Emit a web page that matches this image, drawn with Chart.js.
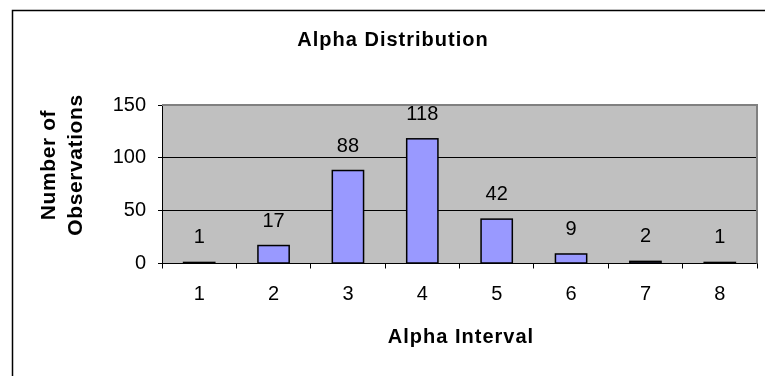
<!DOCTYPE html>
<html>
<head>
<meta charset="utf-8">
<script src="https://cdn.jsdelivr.net/npm/chart.js@4"></script>
<style>
  html, body { margin: 0; padding: 0; background: #fff; }
  #wrap { width: 765px; height: 376px; position: relative; }
</style>
</head>
<body>
<div id="wrap"><canvas id="c"></canvas></div>
<script>
// Histogram of alpha values
const intervals = ['1', '2', '3', '4', '5', '6', '7', '8'];
const observations = [1, 17, 88, 118, 42, 9, 2, 1];
const yTickValues = [0, 50, 100, 150];
const chartTitle = 'Alpha Distribution';
const xTitle = 'Alpha Interval';
const yTitleLines = ['Number of', 'Observations'];

const FONT = "'Liberation Sans', Arial, sans-serif";

// Chart frame, grey plot area, bar outlines, value labels and titles
const decorations = {
  id: 'decorations',
  beforeDraw(chart) {
    const { ctx, chartArea: a } = chart;
    ctx.save();
    ctx.fillStyle = '#fff';
    ctx.fillRect(0, 0, chart.width, chart.height);
    ctx.strokeStyle = '#000';
    ctx.lineWidth = 1.5;
    ctx.strokeRect(12.5, 10.5, chart.width + 40, chart.height + 40);
    ctx.fillStyle = '#C0C0C0';
    ctx.fillRect(a.left, a.top, a.right - a.left, a.bottom - a.top);
    ctx.restore();
  },
  afterDatasetsDraw(chart) {
    const { ctx, chartArea: a } = chart;
    ctx.save();
    // plot area outline on top and right
    ctx.strokeStyle = '#808080';
    ctx.lineWidth = 2;
    ctx.beginPath();
    ctx.moveTo(a.left, a.top);
    ctx.lineTo(a.right, a.top);
    ctx.lineTo(a.right, a.bottom);
    ctx.stroke();
    const meta = chart.getDatasetMeta(0);
    // bar outlines stroked on the bar edges
    ctx.strokeStyle = '#000';
    ctx.lineWidth = 1.5;
    meta.data.forEach(bar => {
      const p = bar.getProps(['x', 'y', 'base', 'width'], true);
      ctx.strokeRect(p.x - p.width / 2, p.y, p.width, p.base - p.y);
    });
    // value labels above each bar
    ctx.fillStyle = '#000';
    ctx.font = '20px ' + FONT;
    ctx.textAlign = 'center';
    ctx.textBaseline = 'alphabetic';
    meta.data.forEach((bar, i) => {
      ctx.fillText(String(observations[i]), bar.x, bar.y - 19);
    });
    ctx.restore();
  },
  afterDraw(chart) {
    const { ctx } = chart;
    ctx.save();
    ctx.fillStyle = '#000';
    ctx.font = 'bold 20px ' + FONT;
    if ('letterSpacing' in ctx) ctx.letterSpacing = '1px';
    ctx.textAlign = 'center';
    ctx.textBaseline = 'middle';
    ctx.fillText(chartTitle, 393, 40);
    ctx.fillText(xTitle, 461, 337);
    ctx.font = 'bold 21px ' + FONT;
    if ('letterSpacing' in ctx) ctx.letterSpacing = '0.6px';
    ctx.translate(63, 165);
    ctx.rotate(-Math.PI / 2);
    ctx.fillText(yTitleLines[0], 0, -14);
    ctx.fillText(yTitleLines[1], 0, 13);
    ctx.restore();
  }
};

new Chart(document.getElementById('c'), {
  type: 'bar',
  data: {
    labels: intervals,
    datasets: [{
      data: observations,
      backgroundColor: '#9999FF',
      borderWidth: 0,
      categoryPercentage: 1,
      barPercentage: 0.42
    }]
  },
  options: {
    responsive: true,
    maintainAspectRatio: false,
    animation: false,
    events: [],
    layout: { padding: { left: 114, top: 105, right: 8, bottom: 0 } },
    plugins: {
      legend: { display: false },
      title: { display: false },
      tooltip: { enabled: false }
    },
    scales: {
      x: {
        afterFit(scale) { scale.height = 112.5; },
        grid: {
          drawOnChartArea: false,
          offset: true,
          color: '#000',
          tickColor: '#000',
          tickLength: 5
        },
        border: { display: true, color: '#000', width: 1 },
        ticks: {
          color: '#000',
          font: { family: FONT, size: 20 },
          padding: 14,
          maxRotation: 0
        }
      },
      y: {
        min: 0,
        max: 150,
        afterFit(scale) { scale.width = 48; },
        afterBuildTicks(scale) { scale.ticks = yTickValues.map(v => ({ value: v })); },
        grid: {
          color: ctx => (ctx.tick && ctx.tick.value === 150) ? '#808080' : (ctx.tick && ctx.tick.value === 0 ? 'rgba(0,0,0,0)' : '#000'),
          tickColor: '#000',
          tickLength: 4,
          lineWidth: 1
        },
        border: { display: true, color: '#000', width: 1 },
        ticks: {
          color: '#000',
          font: { family: FONT, size: 20 },
          padding: 12
        }
      }
    }
  },
  plugins: [decorations]
});
</script>
</body>
</html>
